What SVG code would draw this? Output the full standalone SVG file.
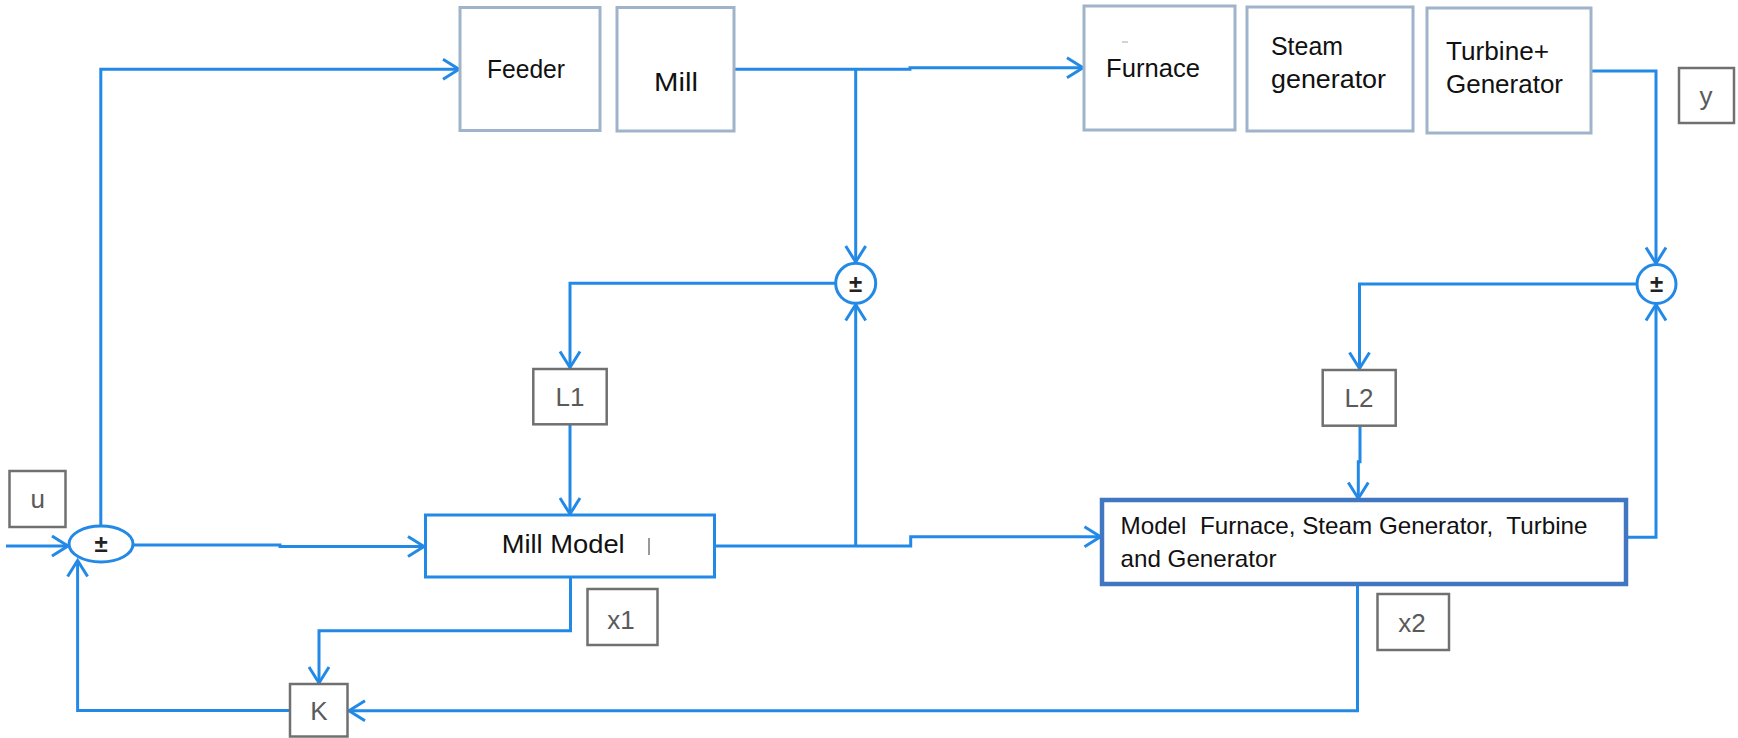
<svg xmlns="http://www.w3.org/2000/svg" width="1738" height="738" viewBox="0 0 1738 738">
<style>
.conn{fill:none;stroke:#2389e6;stroke-width:3;stroke-linejoin:miter}
.top{fill:#fff;stroke:#9fb4ca;stroke-width:3}
.gray{fill:#fff;stroke:#707070;stroke-width:2.5}
.sum{fill:#fff;stroke:#2389e6;stroke-width:3}
.lbl{font-family:"Liberation Sans",Arial,sans-serif;font-size:26px;fill:#111}
.mlbl{font-family:"Liberation Sans",Arial,sans-serif;font-size:24px;fill:#111;white-space:pre}
.glbl{font-family:"Liberation Sans",Arial,sans-serif;font-size:26px;fill:#5a5a5a;text-anchor:middle}
.pm{font-family:"Liberation Sans",Arial,sans-serif;font-size:24px;fill:#222;text-anchor:middle;font-weight:bold}
</style>
<defs>
<marker id="arr" viewBox="0 0 20 24" refX="18" refY="12" markerWidth="20" markerHeight="24" markerUnits="userSpaceOnUse" orient="auto" overflow="visible">
<path d="M2,2 L18,12 L2,22" fill="none" stroke="#2389e6" stroke-width="3"/>
</marker>
</defs>
<rect width="1738" height="738" fill="#fff"/>

<g id="connectors">
<path class="conn" d="M6,546 H68" marker-end="url(#arr)"/>
<path class="conn" d="M100.8,526 V69.3 H459" marker-end="url(#arr)"/>
<path class="conn" d="M133,545 H280 V546.5 H424" marker-end="url(#arr)"/>
<path class="conn" d="M734,69.3 H910 V67.7 H1083" marker-end="url(#arr)"/>
<path class="conn" d="M855.7,69.3 V262" marker-end="url(#arr)"/>
<path class="conn" d="M835.7,283.3 H570 V367.5" marker-end="url(#arr)"/>
<path class="conn" d="M570,424.3 V514" marker-end="url(#arr)"/>
<path class="conn" d="M714.3,546 H910.7 V536.7 H1100.5" marker-end="url(#arr)"/>
<path class="conn" d="M855.7,546 V304.5" marker-end="url(#arr)"/>
<path class="conn" d="M1591,71 H1656 V263.5" marker-end="url(#arr)"/>
<path class="conn" d="M1637,284 H1359.5 V368.5" marker-end="url(#arr)"/>
<path class="conn" d="M1360,425.7 V461.7 H1358.3 V498.5" marker-end="url(#arr)"/>
<path class="conn" d="M1625.7,537.3 H1656 V304.5" marker-end="url(#arr)"/>
<path class="conn" d="M1357.5,584 V710.7 H349" marker-end="url(#arr)"/>
<path class="conn" d="M570.5,576.7 V630.7 H319 V683" marker-end="url(#arr)"/>
<path class="conn" d="M290,710.5 H77.6 V560.5" marker-end="url(#arr)"/>
</g>

<g id="feeder">
<rect class="top" x="460" y="7.5" width="140" height="123"/>
<text class="lbl" x="487" y="78" textLength="78" lengthAdjust="spacingAndGlyphs">Feeder</text>
</g>
<g id="mill">
<rect class="top" x="617" y="7.5" width="117" height="123.5"/>
<text class="lbl" x="654" y="91" textLength="44" lengthAdjust="spacingAndGlyphs">Mill</text>
</g>
<g id="furnace">
<rect class="top" x="1084" y="6" width="151" height="124"/>
<line x1="1122" y1="42" x2="1128" y2="42" stroke="#c4c4c4" stroke-width="1.5"/>
<text class="lbl" x="1106" y="77" textLength="94" lengthAdjust="spacingAndGlyphs">Furnace</text>
</g>
<g id="steam-generator">
<rect class="top" x="1247" y="7" width="166" height="124"/>
<text class="lbl" x="1271" y="55" textLength="72" lengthAdjust="spacingAndGlyphs">Steam</text>
<text class="lbl" x="1271" y="88" textLength="115" lengthAdjust="spacingAndGlyphs">generator</text>
</g>
<g id="turbine-generator">
<rect class="top" x="1427" y="8" width="164" height="125"/>
<text class="lbl" x="1446" y="60" textLength="103" lengthAdjust="spacingAndGlyphs">Turbine+</text>
<text class="lbl" x="1446" y="93" textLength="117" lengthAdjust="spacingAndGlyphs">Generator</text>
</g>

<g id="y">
<rect class="gray" x="1679" y="68" width="55" height="55"/>
<text class="glbl" x="1706" y="105">y</text>
</g>
<g id="u">
<rect class="gray" x="9.5" y="471" width="56" height="56"/>
<text class="glbl" x="37.7" y="508">u</text>
</g>
<g id="x1">
<rect class="gray" x="587.5" y="589" width="70" height="56"/>
<text class="glbl" x="621" y="629">x1</text>
</g>
<g id="x2">
<rect class="gray" x="1377.5" y="594" width="71.5" height="56"/>
<text class="glbl" x="1412" y="632">x2</text>
</g>
<g id="K">
<rect class="gray" x="290" y="684" width="57.5" height="52.5"/>
<text class="glbl" x="319" y="720">K</text>
</g>
<g id="L1">
<rect class="gray" x="533.3" y="369" width="73.4" height="55.3"/>
<text class="glbl" x="570" y="406">L1</text>
</g>
<g id="L2">
<rect class="gray" x="1322.7" y="370" width="73" height="55.7"/>
<text class="glbl" x="1359" y="407">L2</text>
</g>

<g id="sum-input">
<ellipse class="sum" cx="101" cy="544" rx="32" ry="18"/>
<text class="pm" x="101" y="552">±</text>
</g>
<g id="sum-mill">
<circle class="sum" cx="855.7" cy="283.3" r="20"/>
<text class="pm" x="855.7" y="291.5">±</text>
</g>
<g id="sum-output">
<circle class="sum" cx="1656.5" cy="284" r="19.5"/>
<text class="pm" x="1656.5" y="292">±</text>
</g>

<g id="mill-model">
<rect x="425.5" y="515" width="289" height="62" fill="#fff" stroke="#2389e6" stroke-width="3"/>
<text class="lbl" x="501.7" y="553" textLength="123" lengthAdjust="spacingAndGlyphs">Mill Model</text>
<line x1="649" y1="538" x2="649" y2="555" stroke="#777" stroke-width="1.5"/>
</g>
<g id="plant-model">
<rect x="1102" y="500" width="524" height="84" fill="#fff" stroke="#4176c0" stroke-width="4.5"/>
<text class="mlbl" x="1120.5" y="534" textLength="467" lengthAdjust="spacingAndGlyphs">Model  Furnace, Steam Generator,  Turbine</text>
<text class="mlbl" x="1120.5" y="567" textLength="156" lengthAdjust="spacingAndGlyphs">and Generator</text>
</g>
</svg>
